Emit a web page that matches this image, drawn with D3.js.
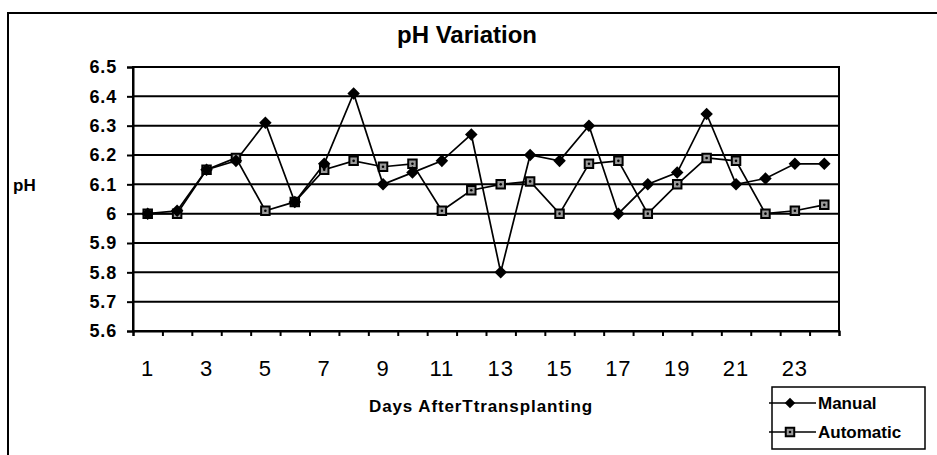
<!DOCTYPE html>
<html>
<head>
<meta charset="utf-8">
<script src="https://cdn.jsdelivr.net/npm/d3@7"></script>
<style>
  body { margin: 0; background: #fff; }
  svg { display: block; font-family: Arial, "Liberation Sans", sans-serif; }
</style>
</head>
<body>
<script>
// pH variation, manual vs automatic, per day after transplanting

const width = 937;
const height = 455;

const days = d3.range(1, 25);
const manual = [6.00, 6.01, 6.15, 6.18, 6.31, 6.04, 6.17, 6.41, 6.10, 6.14, 6.18, 6.27,
    5.80, 6.20, 6.18, 6.30, 6.00, 6.10, 6.14, 6.34, 6.10, 6.12, 6.17, 6.17];
const automatic = [6.00, 6.00, 6.15, 6.19, 6.01, 6.04, 6.15, 6.18, 6.16, 6.17, 6.01, 6.08,
    6.10, 6.11, 6.00, 6.17, 6.18, 6.00, 6.10, 6.19, 6.18, 6.00, 6.01, 6.03];
const yTicks = [5.6, 5.7, 5.8, 5.9, 6.0, 6.1, 6.2, 6.3, 6.4, 6.5];
const xLabels = [1, 3, 5, 7, 9, 11, 13, 15, 17, 19, 21, 23];

const plot = { left: 133, right: 839, top: 67, bottom: 331 };

const svg = d3.select("body")
    .append("svg")
    .attr("width", width)
    .attr("height", height);

// outer chart frame (runs off the right and bottom edge)
svg.append("rect")
    .attr("x", 8).attr("y", 13)
    .attr("width", 945).attr("height", 460)
    .attr("fill", "none")
    .attr("stroke", "#000")
    .attr("stroke-width", 2);

const x = d3.scaleLinear()
    .domain([0.5, 24.5])
    .range([plot.left, plot.right]);

const y = d3.scaleLinear()
    .domain([5.6, 6.5])
    .range([plot.bottom, plot.top]);

// horizontal gridlines
svg.append("g")
    .selectAll("line")
    .data(yTicks)
    .join("line")
    .attr("x1", plot.left).attr("x2", plot.right)
    .attr("y1", d => y(d)).attr("y2", d => y(d))
    .attr("stroke", "#000")
    .attr("stroke-width", 2);

// plot border
svg.append("rect")
    .attr("x", plot.left).attr("y", plot.top)
    .attr("width", plot.right - plot.left)
    .attr("height", plot.bottom - plot.top)
    .attr("fill", "none")
    .attr("stroke", "#000")
    .attr("stroke-width", 2);

// y axis
const yAxis = svg.append("g")
    .attr("transform", `translate(${plot.left},0)`)
    .call(d3.axisLeft(y)
        .tickValues(yTicks)
        .tickSize(6)
        .tickPadding(10)
        .tickFormat(d => d3.format("~g")(d)));
yAxis.select(".domain").attr("stroke-width", 2);
yAxis.selectAll(".tick line").attr("stroke-width", 2);
yAxis.selectAll("text")
    .attr("font-size", 18)
    .attr("font-weight", "bold")
    .attr("letter-spacing", 0.8)
    .attr("fill", "#000");

// x axis: ticks at category boundaries, labels at odd days
const xAxis = svg.append("g")
    .attr("transform", `translate(0,${plot.bottom})`)
    .call(d3.axisBottom(x)
        .tickValues(d3.range(0.5, 25, 1))
        .tickSize(5)
        .tickFormat(""));
xAxis.select(".domain").attr("stroke-width", 2);
xAxis.selectAll(".tick line").attr("stroke-width", 2);

svg.append("g")
    .selectAll("text")
    .data(xLabels)
    .join("text")
    .attr("x", d => x(d))
    .attr("y", 376)
    .attr("text-anchor", "middle")
    .attr("font-size", 22)
    .attr("letter-spacing", 1)
    .text(d => d);

// titles
svg.append("text")
    .attr("x", 467).attr("y", 43)
    .attr("text-anchor", "middle")
    .attr("font-size", 24)
    .attr("font-weight", "bold")
    .text("pH Variation");

svg.append("text")
    .attr("x", 13).attr("y", 191)
    .attr("font-size", 17)
    .attr("font-weight", "bold")
    .text("pH");

svg.append("text")
    .attr("x", 481).attr("y", 412)
    .attr("text-anchor", "middle")
    .attr("font-size", 17)
    .attr("font-weight", "bold")
    .attr("letter-spacing", 0.9)
    .text("Days AfterTtransplanting");

// series
const line = d3.line()
    .x((d, i) => x(days[i]))
    .y(d => y(d));

svg.append("path")
    .datum(manual)
    .attr("d", line)
    .attr("fill", "none")
    .attr("stroke", "#000")
    .attr("stroke-width", 1.7);

svg.append("path")
    .datum(automatic)
    .attr("d", line)
    .attr("fill", "none")
    .attr("stroke", "#000")
    .attr("stroke-width", 1.7);

const diamond = d3.symbol().type(d3.symbolDiamond2).size(100);
const square = d3.symbol().type(d3.symbolSquare).size(72);

function drawSquare(g, cx, cy) {
    g.append("path")
        .attr("transform", `translate(${cx},${cy})`)
        .attr("d", square())
        .attr("fill", "#999")
        .attr("stroke", "#000")
        .attr("stroke-width", 2);
    g.append("circle")
        .attr("cx", cx).attr("cy", cy)
        .attr("r", 1.3)
        .attr("fill", "#000");
}

const autoMarks = svg.append("g");
automatic.forEach((v, i) => drawSquare(autoMarks, x(days[i]), y(v)));

svg.append("g")
    .selectAll("path")
    .data(manual)
    .join("path")
    .attr("transform", (d, i) => `translate(${x(days[i])},${y(d)})`)
    .attr("d", diamond)
    .attr("fill", "#000");

// legend
const legend = svg.append("g");
legend.append("rect")
    .attr("x", 772).attr("y", 387)
    .attr("width", 153).attr("height", 62)
    .attr("fill", "#fff")
    .attr("stroke", "#000")
    .attr("stroke-width", 1.5);

const rows = [
    { name: "Manual", y: 403 },
    { name: "Automatic", y: 432 }
];
rows.forEach(r => {
    legend.append("line")
        .attr("x1", 769).attr("x2", 816)
        .attr("y1", r.y).attr("y2", r.y)
        .attr("stroke", "#000")
        .attr("stroke-width", 1.5);
    legend.append("text")
        .attr("x", 818).attr("y", r.y + 6)
        .attr("font-size", 17)
        .attr("font-weight", "bold")
        .text(r.name);
});
legend.append("path")
    .attr("transform", "translate(790,403)")
    .attr("d", d3.symbol().type(d3.symbolDiamond2).size(70)())
    .attr("fill", "#000");
drawSquare(legend, 790, 432);
</script>
</body>
</html>
